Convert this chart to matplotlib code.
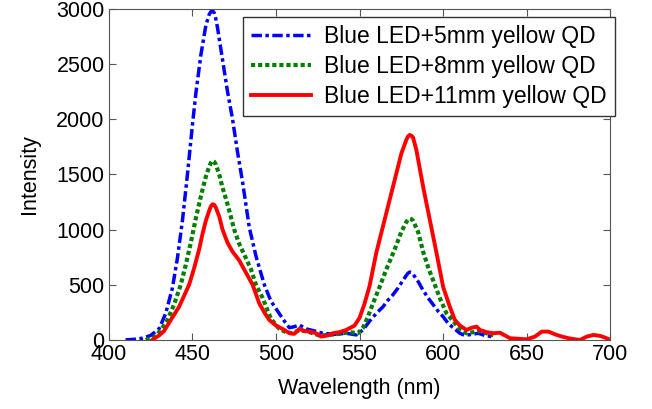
import matplotlib
matplotlib.use("Agg")
import matplotlib.pyplot as plt

plt.rcParams['font.family'] = ['Liberation Sans', 'DejaVu Sans']

# spectra (wavelength in nm, intensity in counts)
wl_5 = [410, 415, 420, 425, 430, 434, 438, 441, 444, 447, 450, 452, 455, 458, 460, 461,
        462, 463, 464, 465, 468, 471, 474, 477, 480, 484, 488, 493, 497, 501, 505, 508,
        511, 514, 518, 522, 528, 535, 542, 548, 552, 556, 560, 564, 567, 570, 573, 576,
        578, 579, 580, 581, 582, 585, 588, 591, 594, 597, 600, 603, 606, 610, 613, 617,
        621, 625, 629]
int_5 = [0, 5, 15, 40, 100, 240, 470, 740, 1080, 1500, 1950, 2230, 2580, 2850, 2950, 2975,
         2985, 2965, 2910, 2830, 2540, 2250, 2000, 1700, 1430, 1020, 760, 500, 350, 260, 170, 110,
         120, 135, 100, 85, 60, 50, 60, 45, 90, 170, 240, 300, 360, 410, 470, 540,
         585, 605, 615, 610, 595, 530, 450, 380, 320, 260, 210, 150, 110, 60, 40, 50,
         60, 40, 30]

wl_8 = [422, 426, 429, 432, 435, 439, 443, 446, 449, 452, 455, 458, 460, 461, 462, 463,
        464, 466, 468, 471, 475, 478, 482, 485, 488, 492, 497, 502, 506, 510, 514, 520,
        526, 532, 538, 544, 549, 552, 555, 558, 562, 566, 571, 575, 578, 579, 580, 581,
        582, 585, 588, 591, 595, 598, 602, 606, 610, 614, 618, 622, 626, 630]
int_8 = [0, 15, 50, 110, 180, 320, 500, 680, 880, 1100, 1300, 1480, 1570, 1605, 1625, 1615,
         1590, 1500, 1380, 1230, 1000, 870, 740, 640, 500, 380, 190, 100, 70, 60, 90, 70,
         40, 45, 55, 70, 60, 110, 210, 330, 480, 640, 820, 980, 1070, 1090, 1100, 1095,
         1080, 980, 800, 660, 500, 380, 240, 170, 100, 60, 70, 80, 60, 40]

wl_11 = [426, 430, 433, 437, 442, 445, 448, 451, 454, 456, 458, 460, 461, 462, 463, 464,
         466, 468, 471, 474, 478, 482, 486, 490, 493, 496, 500, 505, 508, 511, 514, 517,
         520, 524, 527, 531, 534, 538, 542, 547, 550, 553, 556, 560, 565, 570, 575, 578,
         579, 580, 581, 582, 584, 588, 592, 596, 600, 604, 607, 610, 614, 617, 620, 622,
         626, 630, 634, 637, 640, 645, 650, 655, 659, 663, 667, 671, 675, 679, 682, 686,
         690, 694, 697, 700]
int_11 = [0, 40, 80, 180, 300, 400, 500, 650, 820, 960, 1080, 1170, 1210, 1230, 1225, 1200,
          1120, 1000, 880, 800, 720, 610, 500, 330, 250, 180, 130, 90, 60, 55, 100, 80,
          75, 60, 30, 40, 60, 70, 90, 130, 200, 330, 490, 790, 1090, 1390, 1690, 1815,
          1845, 1858, 1852, 1835, 1720, 1390, 1090, 790, 480, 300, 181, 130, 90, 110, 120, 90,
          70, 60, 65, 40, 15, 10, 5, 30, 75, 75, 50, 30, 15, 5, 0, 30,
          45, 36, 20, 0]

labels = ['Blue LED+5mm yellow QD', 'Blue LED+8mm yellow QD', 'Blue LED+11mm yellow QD']
x_ticks = [400, 450, 500, 550, 600, 650, 700]
y_ticks = [0, 500, 1000, 1500, 2000, 2500, 3000]


def main():
    fig = plt.figure(figsize=(6.52, 4.09), dpi=100)
    ax = fig.add_axes([0.167, 0.169, 0.769, 0.809])

    ax.plot(wl_5, int_5, color='#0000ff', lw=2.5, linestyle=(0, (3, 1, 1, 1)), label=labels[0])
    ax.plot(wl_8, int_8, color='#007f00', lw=3, linestyle=(0, (1, 0.7)), label=labels[1])
    ax.plot(wl_11, int_11, color='#ff0000', lw=2.8, label=labels[2])

    ax.set_xlim(400, 700)
    ax.set_ylim(0, 3000)
    ax.set_xticks(x_ticks)
    ax.set_yticks(y_ticks)
    ax.tick_params(direction='in', top=True, right=True, length=5, labelsize=15.5,
                   color='#555555', pad=3)
    for s in ax.spines.values():
        s.set_color('#555555')

    ax.set_xlabel('Wavelength (nm)', fontsize=15.5, labelpad=9)
    ax.set_ylabel('Intensity', fontsize=15.5, labelpad=12)

    leg = ax.legend(loc='upper right', bbox_to_anchor=(615 / 652, 1 - 17 / 409),
                    bbox_transform=fig.transFigure, borderaxespad=0, fontsize=16.5,
                    fancybox=False, framealpha=1, edgecolor='#333333', handlelength=2.6,
                    labelspacing=0.3, borderpad=0.35, handletextpad=0.6)
    leg.get_frame().set_linewidth(1.0)

    fig.savefig('out.png', dpi=100)


if __name__ == "__main__":
    main()
